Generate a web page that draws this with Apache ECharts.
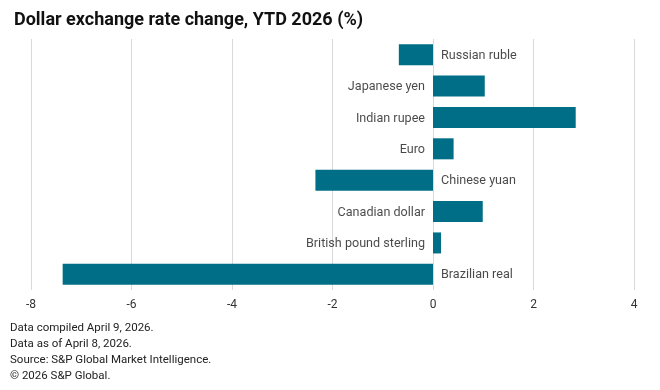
<!DOCTYPE html>
<html><head><meta charset="utf-8">
<script src="https://cdn.jsdelivr.net/npm/echarts@6/dist/echarts.min.js"></script>
<style>html,body{margin:0;padding:0;background:#fff}#c{width:660px;height:390px}</style>
</head><body><div id="c"></div>
<script>
const categories = ["Russian ruble","Japanese yen","Indian rupee","Euro","Chinese yuan","Canadian dollar","British pound sterling","Brazilian real"];
const values = [-0.68, 1.03, 2.84, 0.41, -2.34, 0.99, 0.16, -7.37];
const xTicks = [-8, -6, -4, -2, 0, 2, 4];
const footnotes = ["Data compiled April 9, 2026.","Data as of April 8, 2026.","Source: S&P Global Market Intelligence.","\u00a9 2026 S&P Global."];

const FONT = "Roboto";
const chart = echarts.init(document.getElementById('c'), null, {renderer:'canvas'});
chart.setOption({
  animation:false,
  backgroundColor:'#fff',
  title:{text:'Dollar exchange rate change, YTD 2026 (%)', left:9, top:6,
    textStyle:{fontFamily:FONT,fontSize:18,fontWeight:'bold',color:'#111'}},
  graphic:[{type:'text', left:10, top:320, style:{text:footnotes.join('\n'), fontFamily:FONT, fontSize:11.5, lineHeight:16, fill:'#222'}}],
  grid:{left:31, right:26, top:39, bottom:100, containLabel:false},
  xAxis:{type:'value', min:xTicks[0], max:xTicks[xTicks.length-1], interval:2,
    axisLine:{show:false}, axisTick:{show:false},
    axisLabel:{fontFamily:FONT,fontSize:12,color:'#333',margin:9},
    splitLine:{lineStyle:{color:'#d9d9d9',width:1}}},
  yAxis:{type:'category', data:categories, inverse:true,
    axisLine:{show:false}, axisTick:{show:false}, axisLabel:{show:false}, splitLine:{show:false}},
  series:[
    {type:'bar', data:values, barCategoryGap:'33%', itemStyle:{color:'#006e87'}, silent:true},
    {type:'scatter', symbolSize:0, silent:true,
      data: categories.map((c,i)=>({value:[0,c], label:{position: values[i] >= 0 ? 'left' : 'right'}})),
      label:{show:true, distance:8, offset:[0,1], formatter:p=>categories[p.dataIndex], fontFamily:FONT, fontSize:12.6, color:'#1a1a1a'}}
  ]
});
</script></body></html>
